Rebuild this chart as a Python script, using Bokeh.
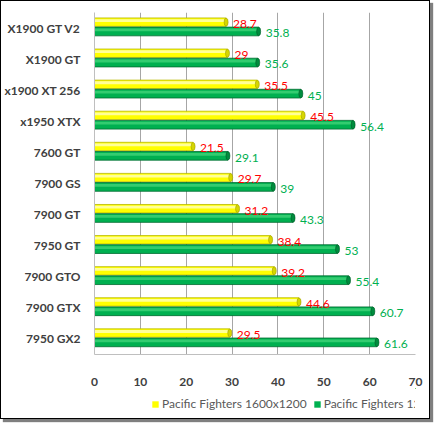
from bokeh.core.properties import value
from bokeh.embed import file_html
from bokeh.layouts import column
from bokeh.models import ColumnDataSource, FactorRange, Legend, LegendItem, Range1d
from bokeh.plotting import figure
from bokeh.resources import INLINE
from bokeh.transform import dodge

# top to bottom as in the chart
cards = ["X1900 GT V2", "X1900 GT", "x1900 XT 256", "x1950 XTX", "7600 GT",
         "7900 GS", "7900 GT", "7950 GT", "7900 GTO", "7900 GTX", "7950 GX2"]
fps_1600 = [28.7, 29, 35.5, 45.5, 21.5, 29.7, 31.2, 38.4, 39.2, 44.6, 29.5]
fps_1280 = [35.8, 35.6, 45, 56.4, 29.1, 39, 43.3, 53, 55.4, 60.7, 61.6]
x_ticks = [0, 10, 20, 30, 40, 50, 60, 70]
names = ["Pacific Fighters 1600x1200", "Pacific Fighters 1280x1024"]
colors = ["#FFFF00", "#00B050"]

src = ColumnDataSource(dict(
    card=cards,
    y1=fps_1600,
    y2=fps_1280,
    t1=[f"{v:g}" for v in fps_1600],
    t2=[f"{v:g}" for v in fps_1280],
))

p = figure(width=428, height=387, output_backend="svg", toolbar_location=None,
           y_range=FactorRange(*reversed(cards), range_padding=0),
           x_range=Range1d(0, 70),
           min_border_left=4, min_border_right=14, min_border_top=11,
           min_border_bottom=33)
p.outline_line_color = None

YOFF = 0.19
GOFF = -0.11

# yellow series
p.hbar(y=dodge("card", YOFF, range=p.y_range), right="y1", left=0, height=0.27,
       source=src, fill_color=colors[0], line_color="#B8B800", line_width=0.8)
p.hbar(y=dodge("card", YOFF + 0.05, range=p.y_range), right="y1", left=0, height=0.09,
       source=src, fill_color="#FFFF99", line_color=None)
p.ellipse(x="y1", y=dodge("card", YOFF, range=p.y_range), width=4, height=8,
          width_units="screen", height_units="screen", source=src,
          fill_color="#D6D600", line_color="#A0A000", line_width=0.6)

# green series
p.hbar(y=dodge("card", GOFF, range=p.y_range), right="y2", left=0, height=0.28,
       source=src, fill_color=colors[1], line_color="#006B30", line_width=0.8)
p.hbar(y=dodge("card", GOFF + 0.05, range=p.y_range), right="y2", left=0, height=0.09,
       source=src, fill_color="#33CC70", line_color=None)
p.ellipse(x="y2", y=dodge("card", GOFF, range=p.y_range), width=4, height=8.5,
          width_units="screen", height_units="screen", source=src,
          fill_color="#008C3E", line_color="#005A28", line_width=0.6)

# value labels
p.text(x="y1", y=dodge("card", YOFF - 0.06, range=p.y_range), text="t1", source=src,
       x_offset=7, text_baseline="middle", text_color="#FF0000",
       text_font=value("Lato"), text_font_size="12px")
p.text(x="y2", y=dodge("card", GOFF - 0.06, range=p.y_range), text="t2", source=src,
       x_offset=7, text_baseline="middle", text_color="#00B050",
       text_font=value("Lato"), text_font_size="12px")

p.xaxis.ticker = x_ticks
p.xgrid.ticker = x_ticks
p.xgrid.grid_line_color = "#A6A6A6"
p.ygrid.grid_line_color = None
p.xaxis.axis_line_color = "#BFBFBF"
p.yaxis.axis_line_color = "#BFBFBF"
p.xaxis.major_tick_line_color = None
p.xaxis.minor_tick_line_color = None
p.yaxis.major_tick_line_color = None
p.xaxis.major_label_standoff = 17
p.yaxis.major_label_standoff = 8
for ax in (p.xaxis, p.yaxis):
    ax.major_label_text_font = "Lato"
    ax.major_label_text_font_style = "bold"
    ax.major_label_text_font_size = "12px"
    ax.major_label_text_color = "#404040"

# legend strip under the chart; its swatch renderers sit far outside the visible range
lf = figure(width=428, height=30, output_backend="svg", toolbar_location=None,
            x_range=Range1d(-1000, -999), y_range=Range1d(-1000, -999),
            x_axis_type=None, y_axis_type=None, min_border=0)
lf.outline_line_color = None
lf.grid.visible = False
k1 = lf.hbar(y="y1", right="y1", height=1, source=src,
             fill_color=colors[0], line_color=None)
k2 = lf.hbar(y="y2", right="y2", height=1, source=src,
             fill_color=colors[1], line_color=None)
legend = Legend(items=[LegendItem(label=names[0], renderers=[k1]),
                       LegendItem(label=names[1], renderers=[k2])],
                orientation="horizontal", location=(57, 7),
                label_text_font="Lato", label_text_font_size="12px",
                label_text_color="#595959", glyph_width=8, glyph_height=8,
                label_standoff=3, spacing=6, padding=2, margin=0,
                border_line_color=None, background_fill_alpha=0)
lf.add_layout(legend)

page = column(p, lf, spacing=0)
page.styles = {"border": "1px solid #000", "box-shadow": "3px 3px 1px #7f7f7f",
               "background": "#fff"}

open("out.html", "w").write(file_html(page, INLINE))
